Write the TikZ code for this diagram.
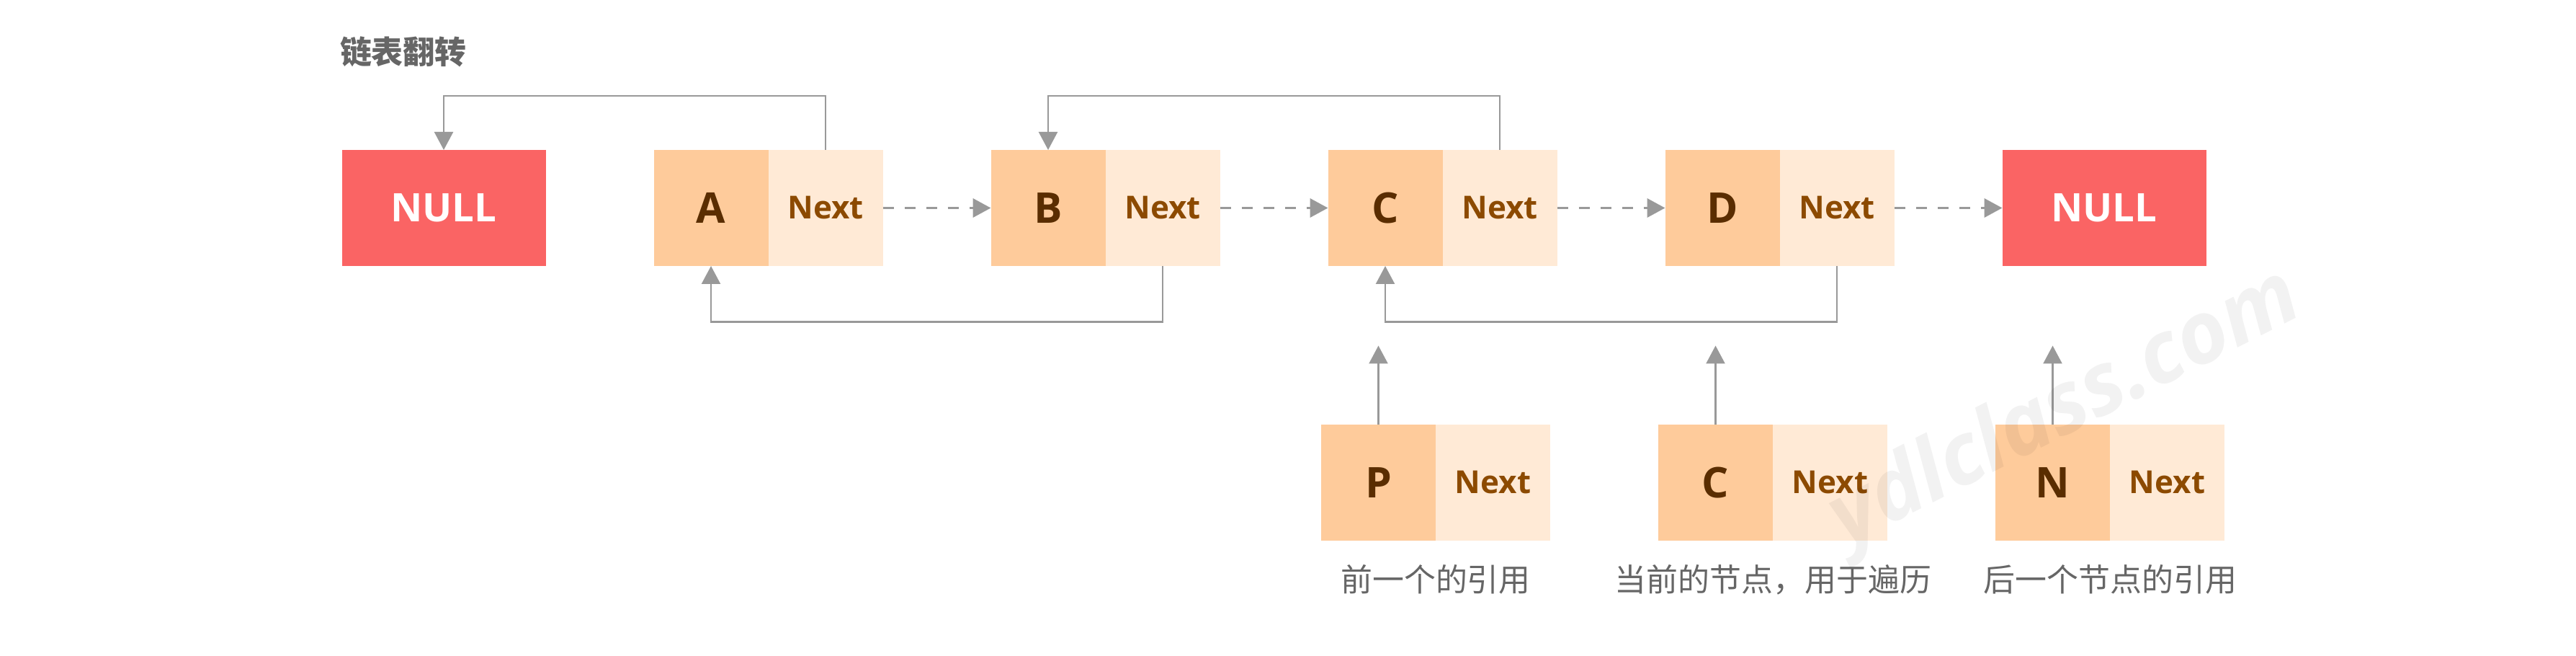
\documentclass[tikz,border=0pt]{standalone}
\usepackage{fontspec}
\setmainfont{Open Sans}[BoldFont={Open Sans Bold}, ItalicFont={Open Sans Italic}, BoldItalicFont={Open Sans Bold Italic}]
\newfontfamily\cjk{Noto Sans CJK SC}
\usetikzlibrary{arrows.meta,positioning}

\definecolor{nullred}{HTML}{FA6464}
\definecolor{datafill}{HTML}{FECB9B}
\definecolor{nextfill}{HTML}{FFEAD6}
\definecolor{datatext}{HTML}{5A2D00}
\definecolor{nexttext}{HTML}{8C4A00}
\definecolor{linkgray}{HTML}{999999}
\definecolor{labelgray}{HTML}{666666}

\begin{document}
\begin{tikzpicture}[
  every node/.style={inner sep=0pt, outer sep=0pt},
  nullbox/.style={fill=nullred, minimum width=2.83cm, minimum height=1.61cm,
    text=white, font=\bfseries\fontsize{15.5}{18}\selectfont},
  databox/.style={fill=datafill, minimum width=1.59cm, minimum height=1.61cm,
    text=datatext, font=\bfseries\fontsize{16.7}{20}\selectfont},
  nextbox/.style={fill=nextfill, minimum width=1.59cm, minimum height=1.61cm,
    text=nexttext, font=\bfseries\fontsize{12.5}{15}\selectfont},
  link/.style={draw=linkgray, line width=0.7pt, -{Triangle[length=0.25cm,width=0.26cm]}},
  ptr/.style={link, line width=1.1pt, dash pattern=on 0.15cm off 0.15cm},
  caption/.style={text=labelgray, font=\cjk\fontsize{12.5}{15}\selectfont},
  watermark/.style={text=black, text opacity=0.05, font=\bfseries\itshape\fontsize{34}{36}\selectfont}]

  \useasboundingbox (0,0) rectangle (35.76,9.09);

  \node[text=labelgray, anchor=west, font=\cjk\bfseries\fontsize{12.5}{15}\selectfont] (title) at (4.72,8.37) {链表翻转};

  % the list
  \node[nullbox] (nullA) at (6.16,6.205) {NULL};
  \node[databox, right=1.5cm of nullA] (A) {A};
  \node[nextbox, right=0pt of A] (An) {Next};
  \node[databox, right=1.5cm of An] (B) {B};
  \node[nextbox, right=0pt of B] (Bn) {Next};
  \node[databox, right=1.5cm of Bn] (C) {C};
  \node[nextbox, right=0pt of C] (Cn) {Next};
  \node[databox, right=1.5cm of Cn] (D) {D};
  \node[nextbox, right=0pt of D] (Dn) {Next};
  \node[nullbox, right=1.5cm of Dn] (nullB) {NULL};

  % the three pointers
  \node[databox] (P) at (19.135,2.395) {P};
  \node[nextbox, right=0pt of P] (Pn) {Next};
  \node[databox, right=1.5cm of Pn] (Cur) {C};
  \node[nextbox, right=0pt of Cur] (Curn) {Next};
  \node[databox, right=1.5cm of Curn] (N) {N};
  \node[nextbox, right=0pt of N] (Nn) {Next};

  \node[caption] (pcap) at (19.93,1.05) {前一个的引用};
  \node[caption] (curcap) at (24.615,1.05) {当前的节点，用于遍历};
  \node[caption] (ncap) at (29.295,1.05) {后一个节点的引用};

  \coordinate[above=1.095cm of P.north] (Ptip);
  \coordinate[above=1.095cm of Cur.north] (Curtip);
  \coordinate[above=1.095cm of N.north] (Ntip);

  \draw[ptr] (An.east) -- (B.west);
  \draw[ptr] (Bn.east) -- (C.west);
  \draw[ptr] (Cn.east) -- (D.west);
  \draw[ptr] (Dn.east) -- (nullB.west);

  \draw[link] (An.north) -- ++(0,0.75) -| (nullA.north);
  \draw[link] (Cn.north) -- ++(0,0.75) -| (B.north);
  \draw[link] (Bn.south) -- ++(0,-0.775) -| (A.south);
  \draw[link] (Dn.south) -- ++(0,-0.775) -| (C.south);

  \draw[link] (P.north) -- (Ptip);
  \draw[link] (Cur.north) -- (Curtip);
  \draw[link] (N.north) -- (Ntip);

  \node[watermark, rotate=27] (mark) at (28.68,3.4) {ydlclass.com};
\end{tikzpicture}
\end{document}
